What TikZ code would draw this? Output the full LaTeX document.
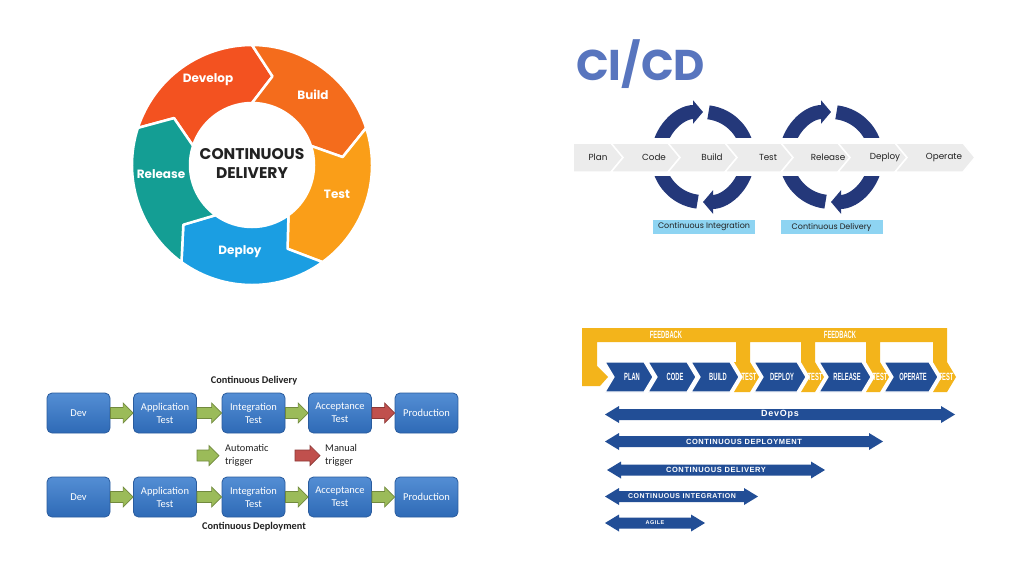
\documentclass[tikz,border=0pt]{standalone}
\usepackage{fontspec}
\usetikzlibrary{calc,arrows.meta}
\newfontfamily\pop{Poppins}
\newfontfamily\carl{Carlito}
\newfontfamily\cond[FakeStretch=0.55]{Liberation Sans}
\newfontfamily\widefont[LetterSpace=8]{Liberation Sans}
\definecolor{cdev}{RGB}{243,82,32}
\definecolor{cbuild}{RGB}{244,108,28}
\definecolor{ctest}{RGB}{250,158,24}
\definecolor{cdeploy}{RGB}{27,158,226}
\definecolor{crel}{RGB}{20,158,148}
\definecolor{cicd}{RGB}{88,117,190}
\definecolor{cnavy}{RGB}{36,56,122}
\definecolor{cgray}{RGB}{236,236,236}
\definecolor{clblue}{RGB}{142,212,242}
\definecolor{bxtop}{RGB}{84,142,212}
\definecolor{bxbot}{RGB}{46,106,182}
\definecolor{bxdraw}{RGB}{42,92,158}
\definecolor{gfill}{RGB}{155,187,89}
\definecolor{gdraw}{RGB}{113,137,62}
\definecolor{rfill}{RGB}{192,80,77}
\definecolor{rdraw}{RGB}{140,56,54}
\definecolor{dyel}{RGB}{243,180,27}
\definecolor{dnavy}{RGB}{34,78,150}
\definecolor{txt}{RGB}{34,34,34}

\newcommand\donutseg[3]{\filldraw[fill=#3, draw=white, line width=2.5pt, line join=round] (#1:120) arc[start angle=#1, end angle=#2, radius=120] -- ({#2-13}:91) -- (#2:62) arc[start angle=#2, end angle=#1, radius=62] -- ({#1-13}:91) -- cycle;}
\newcommand\graychev[2]{\filldraw[fill=cgray, draw=white, line width=1.5pt] (#1,143) -- (#2,143) -- ({#2+12},157.5) -- (#2,172) -- (#1,172) -- ({#1+12},157.5) -- cycle;}
\newcommand\blockarrow[3]{\draw[#3] ($(#1)+(0,-5.5)$) -- ($(#2)+(-10,-5.5)$) -- ($(#2)+(-10,-10)$) -- (#2) -- ($(#2)+(-10,10)$) -- ($(#2)+(-10,5.5)$) -- ($(#1)+(0,5.5)$) -- cycle;}
\newcommand\dchev[3]{\filldraw[fill=#3, draw=white, line width=1.2pt, line join=miter] (#1,362) -- (#2,362) -- ({#2+9},377) -- (#2,392) -- (#1,392) -- ({#1+9},377) -- cycle;}
\newcommand\ychev[2]{\fill[dyel] (#1,362) -- (#2,362) -- ({#2+9},377) -- (#2,392) -- (#1,392) -- ({#1+9},377) -- cycle;}
\newcommand\dblarrow[3]{\fill[dnavy] (#1,#3) -- ({#1+14},{#3-8.5}) -- ({#1+14},{#3-5.5}) -- ({#2-14},{#3-5.5}) -- ({#2-14},{#3-8.5}) -- (#2,#3) -- ({#2-14},{#3+8.5}) -- ({#2-14},{#3+5.5}) -- ({#1+14},{#3+5.5}) -- ({#1+14},{#3+8.5}) -- cycle;}

\tikzset{
  seglabel/.style={text=white, font=\pop\bfseries\fontsize{12}{14}\selectfont, inner sep=0pt},
  barlabel/.style={text=txt, font=\pop\fontsize{8.8}{10}\selectfont, inner sep=0pt},
  cicarr/.style={draw=cnavy, line width=14pt},
  lbox/.style={fill=clblue, minimum width=102pt, minimum height=14pt, inner sep=0pt, text=txt, font=\pop\fontsize{8}{9}\selectfont},
  pbox/.style={rounded corners=5pt, top color=bxtop, bottom color=bxbot, draw=bxdraw, line width=0.8pt, minimum width=63pt, minimum height=40pt, inner sep=1pt, align=center, text=white, font=\carl\fontsize{10.5}{13}\selectfont},
  garrow/.style={fill=gfill, draw=gdraw, line width=0.7pt, line join=miter},
  rarrow/.style={fill=rfill, draw=rdraw, line width=0.7pt, line join=miter},
  q3title/.style={text=txt, font=\carl\bfseries\fontsize{10.3}{12}\selectfont, inner sep=0pt},
  q3legend/.style={text=txt, font=\carl\fontsize{10.3}{13}\selectfont, align=left, anchor=west, inner sep=0pt},
  chtext/.style={text=white, font=\cond\bfseries\fontsize{10.5}{10.5}\selectfont, inner sep=0pt},
  arrtext/.style={text=white, font=\widefont\bfseries\fontsize{#1}{#1}\selectfont, inner sep=0pt},
}

\begin{document}
\begin{tikzpicture}[x=1pt,y=-1pt]
\useasboundingbox[fill=white] (0,0) rectangle (1024,576);

% ---------------- Quadrant 1: donut ----------------
\begin{scope}[shift={(252,165)}, yscale=-1]
  \donutseg{162}{90}{cdev}
  \donutseg{90}{18}{cbuild}
  \donutseg{18}{-54}{ctest}
  \donutseg{-54}{-126}{cdeploy}
  \donutseg{234}{162}{crel}
\end{scope}
\node[seglabel] (ldev) at (208,80) {Develop};
\node[seglabel] (lbuild) at (313,95) {Build};
\node[seglabel] (ltest) at (337,194) {Test};
\node[seglabel] (ldeploy) at (240,252) {Deploy};
\node[seglabel] (lrel) at (161,174) {Release};
\node[text=txt, align=center, font=\pop\bfseries\fontsize{15.5}{19}\selectfont, inner sep=0pt] (cdtitle) at (252,163) {CONTINUOUS\\DELIVERY};

% ---------------- Quadrant 2: CI/CD ----------------
\node[text=cicd, font=\pop\bfseries\fontsize{43}{43}\selectfont, inner sep=0pt, anchor=west] (cicdt) at (576,64) {CI/CD};

\begin{scope}[shift={(703,157)}, yscale=-1]
  \begin{scope}
    \clip (-70,19.5) rectangle (70,70);
    \draw[cicarr, -{Triangle[length=10pt,width=23pt]}] (178:45) arc[start angle=178, end angle=90, radius=45];
    \draw[cicarr] (83:45) arc[start angle=83, end angle=2, radius=45];
  \end{scope}
  \begin{scope}
    \clip (-70,-19.5) rectangle (70,-70);
    \draw[cicarr, -{Triangle[length=10pt,width=23pt]}] (-2:45) arc[start angle=-2, end angle=-90, radius=45];
    \draw[cicarr] (-97:45) arc[start angle=-97, end angle=-178, radius=45];
  \end{scope}
\end{scope}
\begin{scope}[shift={(831,157)}, yscale=-1]
  \begin{scope}
    \clip (-70,19.5) rectangle (70,70);
    \draw[cicarr, -{Triangle[length=10pt,width=23pt]}] (178:45) arc[start angle=178, end angle=90, radius=45];
    \draw[cicarr] (83:45) arc[start angle=83, end angle=2, radius=45];
  \end{scope}
  \begin{scope}
    \clip (-70,-19.5) rectangle (70,-70);
    \draw[cicarr, -{Triangle[length=10pt,width=23pt]}] (-2:45) arc[start angle=-2, end angle=-90, radius=45];
    \draw[cicarr] (-97:45) arc[start angle=-97, end angle=-178, radius=45];
  \end{scope}
\end{scope}

\filldraw[fill=cgray, draw=white, line width=1.5pt] (573,143) -- (611,143) -- (623,157.5) -- (611,172) -- (573,172) -- cycle;
\graychev{611}{668}
\graychev{668}{725}
\graychev{725}{781}
\graychev{781}{838}
\graychev{838}{895}
\graychev{895}{963}
\node[barlabel] (bplan) at (598,157.5) {Plan};
\node[barlabel] (bcode) at (654,157.5) {Code};
\node[barlabel] (bbuild) at (712,157.5) {Build};
\node[barlabel] (btest) at (768,157.5) {Test};
\node[barlabel] (brel) at (828,157.5) {Release};
\node[barlabel] (bdep) at (885,157.5) {Deploy};
\node[barlabel] (bop) at (944,157.5) {Operate};
\node[lbox] (ci) at (704,227) {Continuous Integration};
\node[lbox] (cd) at (831.5,227) {Continuous Delivery};

% ---------------- Quadrant 3: pipelines ----------------
\node[q3title] (t1) at (254,381) {Continuous Delivery};
\node[pbox] (dev1) at (78.5,413) {Dev};
\node[pbox] (app1) at (165,413) {Application\\Test};
\node[pbox] (int1) at (253.5,413) {Integration\\Test};
\node[pbox] (acc1) at (340,413) {Acceptance\\Test};
\node[pbox] (prod1) at (426.5,413) {Production};
\blockarrow{dev1.east}{app1.west}{garrow}
\blockarrow{app1.east}{int1.west}{garrow}
\blockarrow{int1.east}{acc1.west}{garrow}
\blockarrow{acc1.east}{prod1.west}{rarrow}

\coordinate (ga1) at (197,455.5);
\coordinate (ga2) at (219,455.5);
\blockarrow{ga1}{ga2}{garrow}
\node[q3legend] (auto) at (225,455.5) {Automatic\\trigger};
\coordinate (ra1) at (295,455.5);
\coordinate (ra2) at (320,455.5);
\blockarrow{ra1}{ra2}{rarrow}
\node[q3legend] (man) at (325,455.5) {Manual\\trigger};

\node[pbox] (dev2) at (78.5,497) {Dev};
\node[pbox] (app2) at (165,497) {Application\\Test};
\node[pbox] (int2) at (253.5,497) {Integration\\Test};
\node[pbox] (acc2) at (340,497) {Acceptance\\Test};
\node[pbox] (prod2) at (426.5,497) {Production};
\blockarrow{dev2.east}{app2.west}{garrow}
\blockarrow{app2.east}{int2.west}{garrow}
\blockarrow{int2.east}{acc2.west}{garrow}
\blockarrow{acc2.east}{prod2.west}{garrow}
\node[q3title] (t2) at (254,527) {Continuous Deployment};

% ---------------- Quadrant 4: DevOps ----------------
\fill[dyel] (582,328) -- (947,328) -- (947,362) -- (933,362) -- (933,342) -- (880,342) -- (880,362) -- (866,362) -- (866,342) -- (815,342) -- (815,362) -- (801,362) -- (801,342) -- (750,342) -- (750,362) -- (736,362) -- (736,342) -- (597,342) -- (597,366) -- (608,377) -- (600,386) -- (582,386) -- cycle;
\ychev{734}{750}
\ychev{801}{815}
\ychev{866}{880}
\ychev{933}{947}
\dchev{605}{644}{dnavy}
\dchev{648}{687}{dnavy}
\dchev{691}{730}{dnavy}
\dchev{754}{797}{dnavy}
\dchev{819}{862}{dnavy}
\dchev{884}{929}{dnavy}
\node[chtext] (fb1) at (666,335) {FEEDBACK};
\node[chtext] (fb2) at (840,335) {FEEDBACK};
\node[chtext] (cplan) at (632,377) {PLAN};
\node[chtext] (ccode) at (675,377) {CODE};
\node[chtext] (cbuild) at (718,377) {BUILD};
\node[chtext] (ctest1) at (749,377) {TEST};
\node[chtext] (cdeploy) at (782,377) {DEPLOY};
\node[chtext] (ctest2) at (815,377) {TEST};
\node[chtext] (crelease) at (847,377) {RELEASE};
\node[chtext] (ctest3) at (880,377) {TEST};
\node[chtext] (coperate) at (913,377) {OPERATE};
\node[chtext] (ctest4) at (946,377) {TEST};

\dblarrow{605}{955}{414.5}
\dblarrow{605}{883}{441.5}
\dblarrow{607}{825}{470}
\dblarrow{605}{758}{496.5}
\dblarrow{605}{705}{523}
\node[arrtext=9] (adevops) at (780,414.5) {DevOps};
\node[arrtext=7.5] (adeploy) at (744,441.5) {CONTINUOUS DEPLOYMENT};
\node[arrtext=7.5] (adeliv) at (716,470) {CONTINUOUS DELIVERY};
\node[arrtext=7] (aint) at (682,496.5) {CONTINUOUS INTEGRATION};
\node[arrtext=5.5] (aagile) at (655,523) {AGILE};
\end{tikzpicture}
\end{document}
